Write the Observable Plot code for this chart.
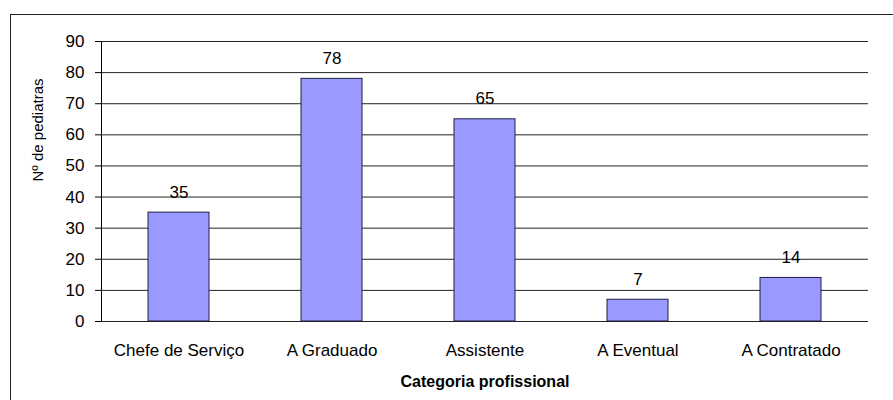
<!DOCTYPE html>
<html>
<head>
<meta charset="utf-8">
<script src="https://cdn.jsdelivr.net/npm/d3@7"></script>
<script src="https://cdn.jsdelivr.net/npm/@observablehq/plot@0.6"></script>
<style>
  html, body { margin: 0; padding: 0; background: #fff; }
  #chart { position: relative; width: 893px; height: 400px; overflow: hidden; }
  #chart .box {
    position: absolute; left: 10px; top: 14px; right: -5px; bottom: -5px;
    border-top: 1px solid #222; border-left: 1px solid #222; pointer-events: none;
  }
  #chart svg { position: absolute; left: 0; top: 0; }
</style>
</head>
<body>
<div id="chart"><div class="box"></div></div>
<script>
// Pediatricians by professional category
const categories = ["Chefe de Serviço", "A Graduado", "Assistente", "A Eventual", "A Contratado"];
const counts = [35, 78, 65, 7, 14];
const yTicks = [0, 10, 20, 30, 40, 50, 60, 70, 80, 90];
const xTitle = "Categoria profissional";
const yTitle = "Nº de pediatras";

const rows = categories.map((c, i) => ({category: c, value: counts[i]}));

const font = "Liberation Sans, Arial, sans-serif";

const plot = Plot.plot({
  width: 893,
  height: 400,
  marginLeft: 101,
  marginRight: 25,
  marginTop: 41,
  marginBottom: 79,
  style: {fontFamily: font, fontSize: "17px", color: "#000", background: "transparent"},
  x: {domain: categories, paddingInner: 0.6, paddingOuter: 0.3, label: null},
  y: {domain: [0, 90], label: null},
  marks: [
    Plot.ruleY(yTicks, {stroke: "#222", strokeWidth: 1}),
    Plot.frame({anchor: "left", stroke: "#000"}),
    Plot.axisY({ticks: yTicks, tickSize: 6, tickPadding: 11, tickFormat: d => d, label: null, fontSize: 17, stroke: "#000"}),
    Plot.axisX({tickSize: 0, tickPadding: 22, label: null, fontSize: 17}),
    Plot.barY(rows, {x: "category", y: "value", fill: "#9999ff", stroke: "#1e1e40", strokeWidth: 1}),
    Plot.text(rows, {x: "category", y: "value", text: d => String(d.value), lineAnchor: "bottom", dy: -15, fontSize: 17, fill: "#000"}),
    Plot.text([xTitle], {frameAnchor: "bottom", dy: 65, text: d => d, fontWeight: "bold", fontSize: 16, fill: "#000"}),
    Plot.text([yTitle], {frameAnchor: "left", dx: -63, rotate: -90, text: d => d, fontSize: 15, fill: "#000"})
  ]
});

document.getElementById("chart").appendChild(plot);
</script>
</body>
</html>
